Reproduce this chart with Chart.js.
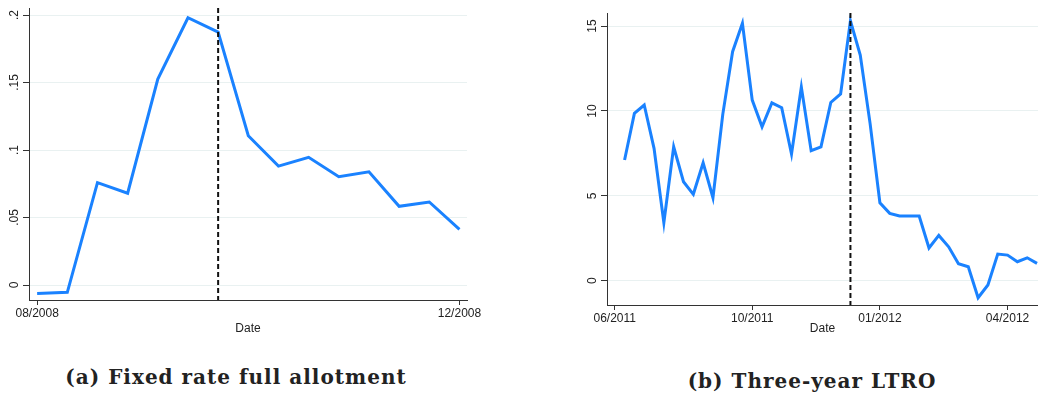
<!DOCTYPE html>
<html>
<head>
<meta charset="utf-8">
<script src="https://cdn.jsdelivr.net/npm/chart.js@4.4.1/dist/chart.umd.min.js"></script>
<style>
  body { margin: 0; background: #fff; width: 1038px; height: 396px; position: relative; overflow: hidden; }
  .panel { position: absolute; top: 0; height: 340px; }
  .cap { position: absolute; font-family: "DejaVu Serif", serif; font-weight: bold; font-size: 20px; letter-spacing: 1px; color: #222; white-space: nowrap; transform: translate(-50%, -50%); }
</style>
</head>
<body>
<div class="panel" style="left:0;width:500px"><canvas id="chartA"></canvas></div>
<div class="panel" style="left:580px;width:458px"><canvas id="chartB"></canvas></div>
<div class="cap" style="left:236px;top:377px">(a) Fixed rate full allotment</div>
<div class="cap" style="left:812px;top:381px">(b) Three-year LTRO</div>
<script>
// panel (a): weekly observations, 08/2008 - 12/2008
const fraValues = [-0.0062, -0.0054, 0.0758, 0.068, 0.1526, 0.198, 0.1874, 0.1106,
  0.0881, 0.0946, 0.0802, 0.0839, 0.0583, 0.0615, 0.0412];
const fraTickPos = [0, 14];
const fraTickLabels = ['08/2008', '12/2008'];
const fraYTicks = [0, 0.05, 0.1, 0.15, 0.2];
const fraYLabels = ['0', '.05', '.1', '.15', '.2'];
const fraEvent = 6;

// panel (b): weekly observations, 06/2011 - 04/2012
const ltroValues = [7.11, 9.86, 10.35, 7.8, 3.42, 7.89, 5.83, 5.09, 6.95, 4.89,
  9.8, 13.49, 15.16, 10.64, 9.07, 10.48, 10.19, 7.46, 11.41, 7.66,
  7.89, 10.5, 11.0, 15.31, 13.29, 9.27, 4.59, 3.97, 3.81, 3.81,
  3.81, 1.93, 2.67, 2.0, 1.0, 0.82, -1.0, -0.25, 1.57, 1.51,
  1.12, 1.35, 1.02];
const ltroTickPos = [-1, 13, 26, 39];
const ltroTickLabels = ['06/2011', '10/2011', '01/2012', '04/2012'];
const ltroYTicks = [0, 5, 10, 15];
const ltroYLabels = ['0', '5', '10', '15'];
const ltroEvent = 23;

const lineColor = '#1a82ff';
const axisColor = '#333';
const gridColor = '#e9f1f1';
const tickFont = { family: 'Liberation Sans', size: 12 };

// dashed event line + rotated y tick labels
const extras = {
  id: 'extras',
  afterDraw(chart, args, opts) {
    const ctx = chart.ctx;
    const x = chart.scales.x.getPixelForValue(opts.event);
    const area = chart.chartArea;
    ctx.save();
    ctx.strokeStyle = '#111';
    ctx.lineWidth = 2;
    ctx.setLineDash([5, 3]);
    ctx.beginPath();
    ctx.moveTo(x, area.top);
    ctx.lineTo(x, area.bottom);
    ctx.stroke();
    ctx.restore();

    const ys = chart.scales.y;
    ctx.save();
    ctx.fillStyle = '#222';
    ctx.font = '12px "Liberation Sans"';
    ctx.textAlign = 'center';
    ctx.textBaseline = 'middle';
    opts.yTicks.forEach((v, i) => {
      ctx.save();
      ctx.translate(ys.right - 14, ys.getPixelForValue(v));
      ctx.rotate(-Math.PI / 2);
      ctx.fillText(opts.yLabels[i], 0, 0);
      ctx.restore();
    });
    ctx.restore();
  }
};

function makeChart(id, values, opt) {
  const points = values.map((v, i) => ({ x: i, y: v }));
  return new Chart(id, {
    type: 'line',
    data: {
      datasets: [{
        data: points,
        borderColor: lineColor,
        borderWidth: 3,
        pointRadius: 0,
        tension: 0,
        fill: false
      }]
    },
    options: {
      responsive: false,
      animation: false,
      layout: { padding: { top: opt.top, right: opt.right, left: 0, bottom: 0 } },
      plugins: {
        legend: { display: false },
        tooltip: { enabled: false },
        extras: { event: opt.event, yTicks: opt.yTicks, yLabels: opt.yLabels }
      },
      scales: {
        x: {
          type: 'linear',
          min: opt.xMin,
          max: opt.xMax,
          afterBuildTicks: s => { s.ticks = opt.xTicks.map(v => ({ value: v })); },
          afterFit: s => { s.height = opt.xHeight; },
          ticks: {
            font: tickFont,
            color: '#222',
            maxRotation: 0,
            padding: 1,
            callback: v => opt.xLabels[opt.xTicks.indexOf(v)]
          },
          grid: { drawOnChartArea: false, tickLength: 5, tickColor: axisColor },
          border: { color: axisColor, width: 1 },
          title: { display: true, text: 'Date', font: tickFont, color: '#222', padding: { top: 0, bottom: 4 } }
        },
        y: {
          min: opt.yMin,
          max: opt.yMax,
          afterBuildTicks: s => { s.ticks = opt.yTicks.map(v => ({ value: v })); },
          afterFit: s => { s.width = opt.yWidth; },
          ticks: { display: false },
          grid: { color: gridColor, lineWidth: 1, tickLength: 6, tickColor: axisColor },
          border: { color: axisColor, width: 1 }
        }
      }
    },
    plugins: [extras]
  });
}

document.getElementById('chartA').width = 500;
document.getElementById('chartA').height = 340;
document.getElementById('chartB').width = 458;
document.getElementById('chartB').height = 340;

makeChart('chartA', fraValues, {
  top: 8, right: 33, yWidth: 29, xHeight: 40,
  xMin: -0.27, xMax: 14.25, xTicks: fraTickPos, xLabels: fraTickLabels,
  yMin: -0.0111, yMax: 0.2052, yTicks: fraYTicks, yLabels: fraYLabels,
  event: fraEvent
});

makeChart('chartB', ltroValues, {
  top: 13, right: 0, yWidth: 27, xHeight: 35,
  xMin: -1.79, xMax: 42.1, xTicks: ltroTickPos, xLabels: ltroTickLabels,
  yMin: -1.43, yMax: 15.77, yTicks: ltroYTicks, yLabels: ltroYLabels,
  event: ltroEvent
});
</script>
</body>
</html>
